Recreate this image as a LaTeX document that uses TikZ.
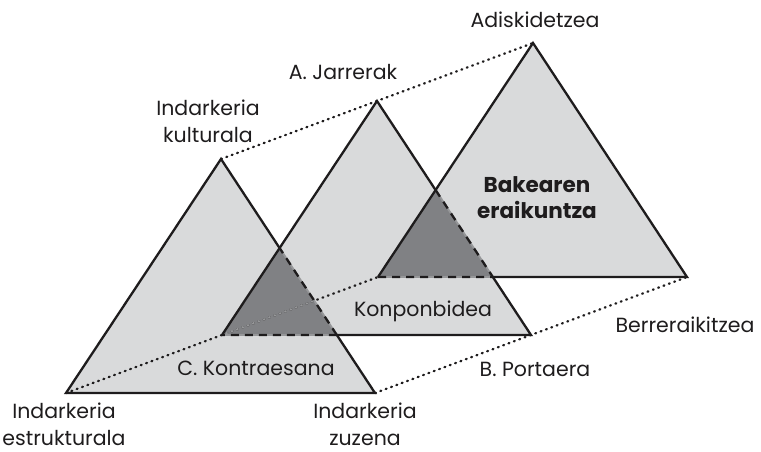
\documentclass[tikz,border=0pt]{standalone}
\usepackage{fontspec}
\setmainfont{Poppins}
\definecolor{lightfill}{RGB}{217,218,219}
\definecolor{darkfill}{RGB}{128,129,132}
\definecolor{hidgray}{RGB}{150,151,153}
\definecolor{inkc}{RGB}{30,28,29}
\begin{document}
\begin{tikzpicture}[x=1pt,y=-1pt,
  edge/.style={line width=2.3pt, draw=inkc, line join=miter},
  hidden/.style={line width=2.3pt, draw=inkc, dash pattern=on 8pt off 6pt,
     preaction={draw=hidgray, line width=1.8pt, solid}},
  dotline/.style={line width=2.3pt, draw=inkc, line cap=round, dash pattern=on 0.9pt off 4.8pt},
  lbl/.style={font=\fontsize{20.5}{27}\selectfont, text=inkc, align=center, inner sep=0pt}]
\useasboundingbox (0,0) rectangle (761,451);
% triangle vertices
\coordinate (A1) at (66,393);  \coordinate (B1) at (375,393); \coordinate (C1) at (221,159);
\coordinate (A2) at (222,335); \coordinate (B2) at (531,335); \coordinate (C2) at (377,101);
\coordinate (A3) at (378,277); \coordinate (B3) at (687,277); \coordinate (C3) at (533,43);
\coordinate (P1) at (intersection of B1--C1 and A2--C2);
\coordinate (Q1) at (intersection of B1--C1 and A2--B2);
\coordinate (P2) at (intersection of B2--C2 and A3--C3);
\coordinate (Q2) at (intersection of B2--C2 and A3--B3);
% fills
\fill[lightfill] (A1)--(B1)--(C1)--cycle;
\fill[lightfill] (A2)--(B2)--(C2)--cycle;
\fill[lightfill] (A3)--(B3)--(C3)--cycle;
\fill[darkfill] (A2)--(Q1)--(P1)--cycle;
\fill[darkfill] (A3)--(Q2)--(P2)--cycle;
% dotted projection lines
\draw[dotline] (C1)--(C3);
\draw[dotline] (A1)--(A3);
\begin{scope}
  \clip (A2)--(Q1)--(P1)--cycle;
  \draw[dotline, draw=hidgray] (A1)--(A3);
\end{scope}
\draw[dotline] (B1)--(B3);
% outlines
\draw[edge] (Q1)--(B1)--(A1)--(C1)--(P1);
\draw[hidden] (Q1)--(P1);
\draw[edge] (Q2)--(B2)--(Q1);
\draw[edge] (A2)--(C2)--(P2);
\draw[hidden] (P2)--(Q2);
\draw[hidden] (Q1)--(A2);
\draw[edge] (Q2)--(B3)--(C3)--(A3);
\draw[hidden] (A3)--(Q2);
% labels
\node[lbl] (kult) at (208,121) {Indarkeria\\kulturala};
\node[lbl] (jarr) at (343,72) {A. Jarrerak};
\node[lbl] (adis) at (535,20) {Adiskidetzea};
\node[lbl, font=\fontsize{21.5}{26}\selectfont\bfseries] (bake) at (537,198) {Bakearen\\eraikuntza};
\node[lbl] (konp) at (423,311) {Konponbidea};
\node[lbl] (kontr) at (256,368) {C. Kontraesana};
\node[lbl] (berr) at (685,325) {Berreraikitzea};
\node[lbl] (port) at (535,369) {B. Portaera};
\node[lbl] (estr) at (64,424) {Indarkeria\\estrukturala};
\node[lbl] (zuz) at (365,424) {Indarkeria\\zuzena};
\end{tikzpicture}
\end{document}
